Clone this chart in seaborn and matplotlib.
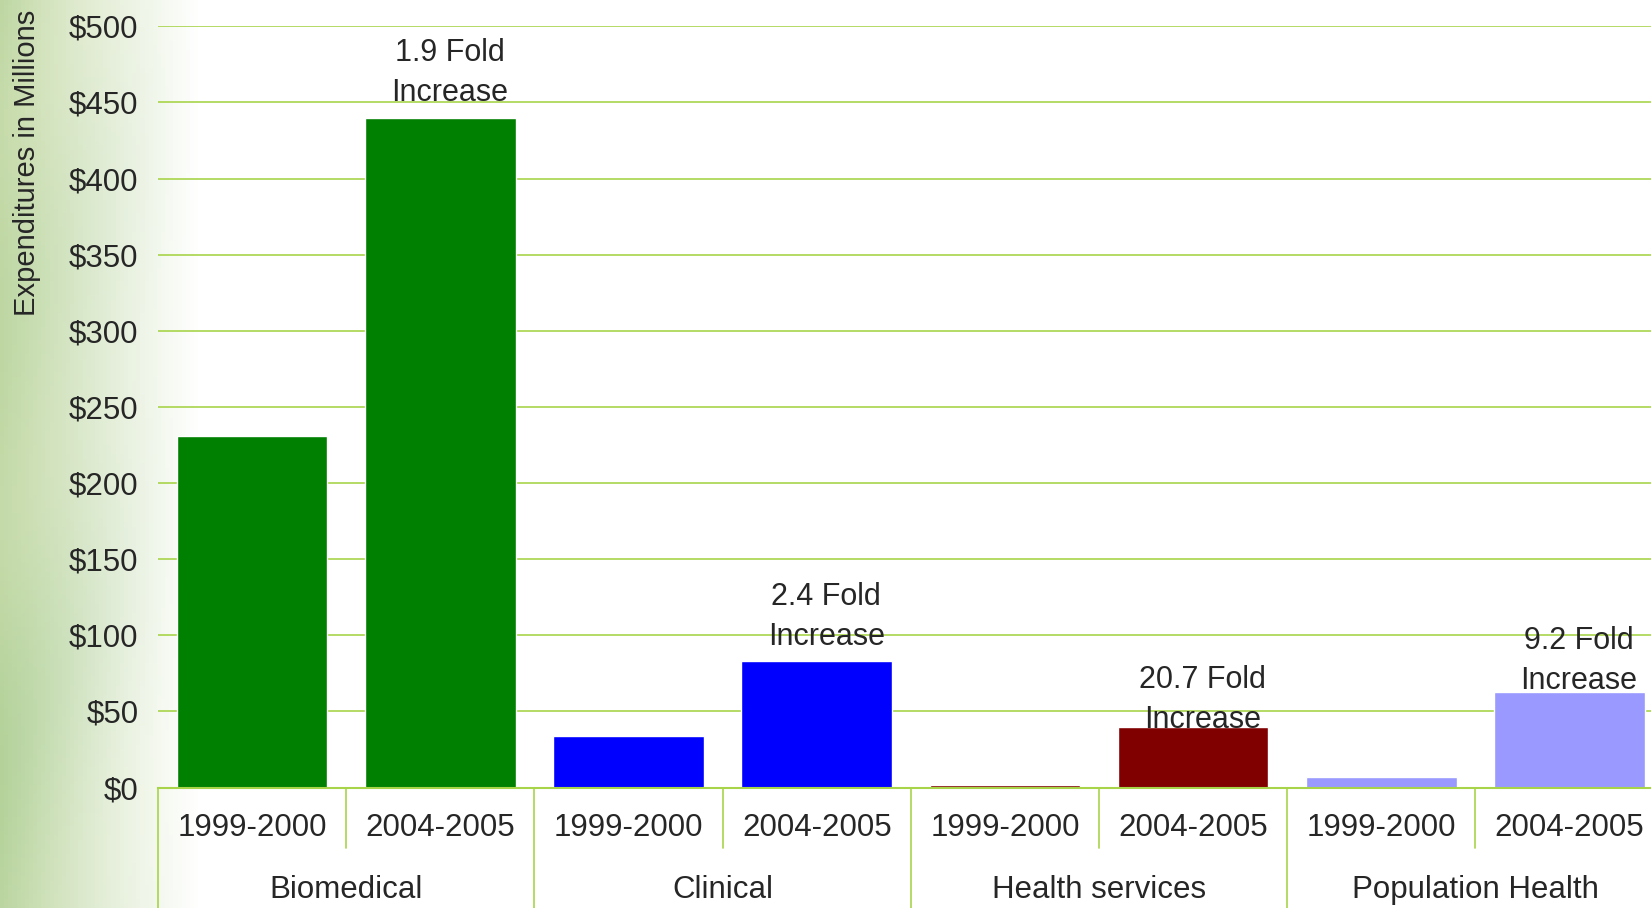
import numpy as np
import pandas as pd
import matplotlib
matplotlib.use("Agg")
import matplotlib.pyplot as plt
import matplotlib.transforms as mtransforms
import seaborn as sns

# data (millions of dollars)
categories = ["Biomedical", "Clinical", "Health services", "Population Health"]
periods = ["1999-2000", "2004-2005"]
spend_1999 = [231, 34, 1.9, 6.8]
spend_2004 = [440, 83, 39.5, 63]
fold_labels = ["1.9 Fold\nIncrease", "2.4 Fold\nIncrease", "20.7 Fold\nIncrease", "9.2 Fold\nIncrease"]
label_offset = [6, 6, -5, -3]   # where the note sits above each 2004-05 bar
colors = ["#008000", "#0000ff", "#800000", "#9999ff"]
yticks = [0, 50, 100, 150, 200, 250, 300, 350, 400, 450, 500]

rows = []
for c, a, b in zip(categories, spend_1999, spend_2004):
    rows.append({"slot": c + "\n" + periods[0], "category": c, "period": periods[0], "value": a})
    rows.append({"slot": c + "\n" + periods[1], "category": c, "period": periods[1], "value": b})
df = pd.DataFrame(rows)

sns.set_style("white")
plt.rcParams["font.family"] = ["Liberation Sans", "DejaVu Sans"]
grid_col = "#a8d44a"
fs = 22.5

fig = plt.figure(figsize=(16.51, 9.08), dpi=100)

# soft green background strip on the left
bg = fig.add_axes([0, 0, 1, 1], zorder=-10)
w, h = 400, 200
xx = np.linspace(0, 1, w)[None, :]
yy = np.linspace(0, 1, h)[:, None]
fade = np.clip(1 - xx / 0.12, 0, 1) ** 1.1
wave = 0.5 + 0.5 * np.sin(yy * 9 + xx * 30) * np.cos(yy * 4.3)
base = np.array([0.70, 0.82, 0.60])
alt = np.array([0.84, 0.89, 0.72])
col = base[None, None, :] * (1 - wave[..., None] * 0.6) + alt[None, None, :] * (wave[..., None] * 0.6)
img = 1 - fade[..., None] * (1 - col)
bg.imshow(img, aspect="auto", extent=[0, 1, 0, 1])
bg.set_axis_off()

ax = fig.add_axes([0.0957, 0.1326, 0.912, 0.8385])
ax.patch.set_alpha(0)
sns.barplot(data=df, x="slot", y="value", hue="category", palette=colors,
            dodge=False, width=0.8, legend=False, saturation=1, ax=ax, zorder=3)

ax.set_ylim(0, 500)
ax.set_xlim(-0.5, 7.5)
ax.set_yticks(yticks)
ax.set_yticklabels([f"${t}" for t in yticks], fontsize=fs)
ax.tick_params(axis="y", length=0, pad=14)
ax.set_xticks([])
ax.set_xlabel("")
ax.set_ylabel("")
for t in yticks[1:]:
    ax.axhline(t, color=grid_col, lw=1.2, zorder=1)
for s in ["top", "right", "left"]:
    ax.spines[s].set_visible(False)
ax.spines["bottom"].set_color(grid_col)
ax.spines["bottom"].set_linewidth(1.5)
ax.spines["bottom"].set_zorder(4)

# fold increase notes over the 2004-2005 bars
for i, (lab, v, off) in enumerate(zip(fold_labels, spend_2004, label_offset)):
    ax.text(2 * i + 1 + 0.05, v + off, lab, ha="center", va="bottom",
            fontsize=fs - 0.5, linespacing=1.45, zorder=5)

# two-level category axis
trans = mtransforms.blended_transform_factory(ax.transData, ax.transAxes)
for i in range(len(categories)):
    for j, p in enumerate(periods):
        ax.text(2 * i + j, -0.053, p, transform=trans, ha="center", va="center",
                fontsize=fs, clip_on=False)
    ax.text(2 * i + 0.5, -0.1345, categories[i], transform=trans, ha="center",
            va="center", fontsize=fs, clip_on=False)
    ax.plot([2 * i + 0.5, 2 * i + 0.5], [0, -0.079], transform=trans,
            color=grid_col, lw=1.2, clip_on=False)
for k in range(len(categories) + 1):
    ax.plot([2 * k - 0.5, 2 * k - 0.5], [0, -0.2], transform=trans,
            color=grid_col, lw=1.2, clip_on=False)

fig.text(27 / 1651, 1 - 163 / 908, "Expenditures in Millions", rotation=90,
         ha="center", va="center", fontsize=21)

fig.savefig("out.png", dpi=100)
